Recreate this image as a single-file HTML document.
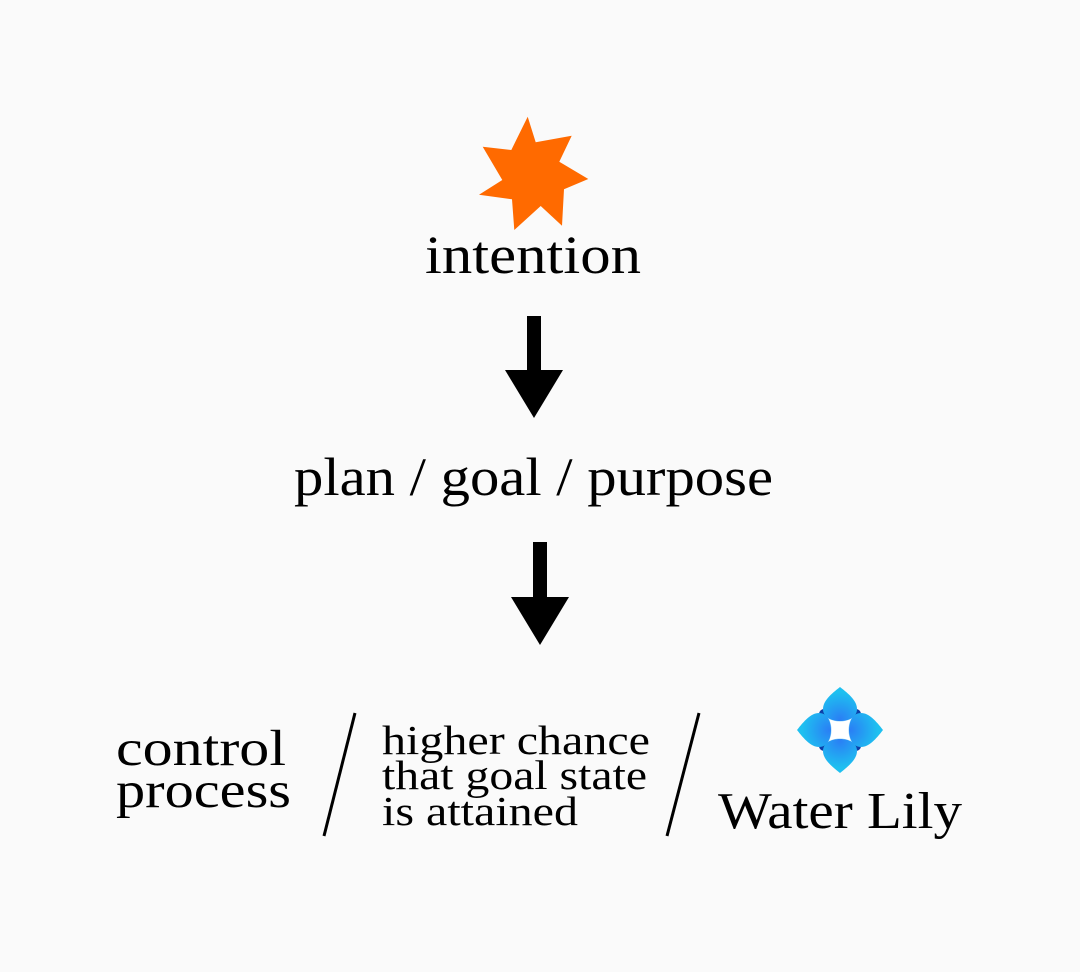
<!DOCTYPE html>
<html><head><meta charset="utf-8"><style>
html,body{margin:0;padding:0;background:#fafafa;}
svg{display:block}
text{font-family:"Liberation Serif",serif;fill:#000}
</style></head><body>
<svg width="1080" height="972" viewBox="0 0 1080 972">
<rect width="1080" height="972" fill="#fafafa"/>
<defs>
<radialGradient id="pg" cx="50%" cy="95%" r="80%">
<stop offset="0" stop-color="#2a7ff5"/><stop offset="1" stop-color="#1ec0f0"/>
</radialGradient>
</defs>
<polygon fill="#ff6a00" points="527.7,116.7 535.7,142.3 571.7,135.7 559.3,161.7 588.3,179 564,189.3 562,225.7 540.7,206 514.3,230 512,199.3 479,194.7 502.3,180 482.7,146.7 511.3,150"/>
<text x="425" y="273" font-size="54" textLength="216" lengthAdjust="spacingAndGlyphs">intention</text>
<rect x="527" y="316" width="14" height="56" fill="#000"/>
<polygon points="505,370 563,370 534,418" fill="#000"/>
<text x="294" y="495" font-size="54" textLength="479" lengthAdjust="spacingAndGlyphs">plan / goal / purpose</text>
<rect x="533" y="542" width="14" height="57" fill="#000"/>
<polygon points="511,597 569,597 540,645" fill="#000"/>
<text x="116" y="765" font-size="51" textLength="170" lengthAdjust="spacingAndGlyphs">control</text>
<text x="116" y="807" font-size="51" textLength="175" lengthAdjust="spacingAndGlyphs">process</text>
<line x1="355" y1="713" x2="324" y2="836" stroke="#000" stroke-width="3"/>
<text x="382" y="754" font-size="41" textLength="268" lengthAdjust="spacingAndGlyphs">higher chance</text>
<text x="382" y="789" font-size="41" textLength="265" lengthAdjust="spacingAndGlyphs">that goal state</text>
<text x="382" y="825" font-size="41" textLength="196" lengthAdjust="spacingAndGlyphs">is attained</text>
<line x1="699" y1="713" x2="667" y2="836" stroke="#000" stroke-width="3"/>
<g transform="translate(840,730)">
<rect x="-15" y="-15" width="30" height="30" fill="#9fdcf8"/>
<circle cx="-16" cy="-16" r="5" fill="#0d3fa8"/><circle cx="16" cy="-16" r="5" fill="#0d3fa8"/>
<circle cx="-16" cy="16" r="5" fill="#0d3fa8"/><circle cx="16" cy="16" r="5" fill="#0d3fa8"/>
<g id="p"><path d="M0,-43 C9,-36 17,-29 17,-21 C17,-13 9,-9 0,-9 C-9,-9 -17,-13 -17,-21 C-17,-29 -9,-36 0,-43Z" fill="url(#pg)"/></g>
<use href="#p" transform="rotate(90)"/><use href="#p" transform="rotate(180)"/><use href="#p" transform="rotate(270)"/>
<path d="M-11,-11 Q0,-6 11,-11 Q6,0 11,11 Q0,6 -11,11 Q-6,0 -11,-11Z" fill="#fff"/>
</g>
<text x="718" y="828" font-size="52" textLength="244" lengthAdjust="spacingAndGlyphs">Water Lily</text>
</svg>
</body></html>
